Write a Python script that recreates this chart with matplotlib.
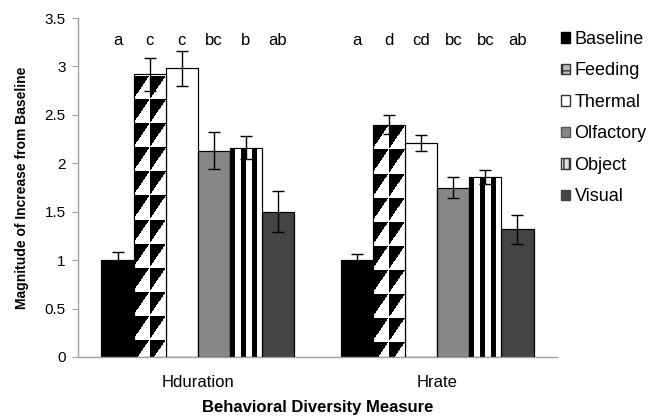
import numpy as np
import matplotlib
matplotlib.use("Agg")
import matplotlib.pyplot as plt
from matplotlib.patches import Patch

plt.rcParams["font.family"] = ["Liberation Sans", "DejaVu Sans"]

# data
measures = ["Hduration", "Hrate"]
conditions = ["Baseline", "Feeding", "Thermal", "Olfactory", "Object", "Visual"]
means = {
    "Hduration": [1.00, 2.92, 2.98, 2.13, 2.16, 1.50],
    "Hrate": [1.00, 2.40, 2.21, 1.75, 1.86, 1.32],
}
errors = {
    "Hduration": [0.08, 0.17, 0.18, 0.19, 0.12, 0.21],
    "Hrate": [0.06, 0.10, 0.08, 0.11, 0.07, 0.15],
}
letters = {
    "Hduration": ["a", "c", "c", "bc", "b", "ab"],
    "Hrate": ["a", "d", "cd", "bc", "bc", "ab"],
}

fills = {
    "Baseline": "#000000",
    "Feeding": "#ffffff",
    "Thermal": "#ffffff",
    "Olfactory": "#878787",
    "Object": "#ffffff",
    "Visual": "#444444",
}

fig = plt.figure(figsize=(6.51, 4.16), dpi=100)
ax = fig.add_axes([78 / 651, 59 / 416, (557 - 78) / 651, (357 - 18) / 416])

n = len(conditions)
width = 0.134
ymax = 3.5
px_per_unit = 339 / ymax


def triangle_texture(h, cell_h):
    # 2 columns of cells, black upper-left triangle, white lower-right
    res = 8
    ny = int(h * px_per_unit * res)
    nx = int(32 * res)
    yy = (np.arange(ny)[::-1] + 0.5) / ny * h
    xx = (np.arange(nx) + 0.5) / nx * 2
    u = np.mod(xx, 1.0)[None, :]
    v = 1 - np.mod((h - yy) / cell_h, 1.0)[:, None]
    img = np.where(v > u, 0.0, 1.0)
    img[(v > 0.94).repeat(nx, axis=1)] = 1.0  # thin white line at top of each cell
    return img


def stripe_texture(h):
    res = 8
    ny = max(int(h * px_per_unit), 2)
    nx = int(32 * res)
    xx = (np.arange(nx) + 0.5) / nx * 3
    u = np.mod(xx, 1.0)
    row = np.where(u < 0.45, 0.0, 1.0)
    return np.tile(row, (ny, 1))


for gi, m in enumerate(measures):
    xs = gi + (np.arange(n) - (n - 1) / 2) * width
    for ci, c in enumerate(conditions):
        val = means[m][ci]
        bar = ax.bar(xs[ci], val, width, color=fills[c], edgecolor="#000000",
                     linewidth=0.8, zorder=2)[0]
        x0 = bar.get_x()
        img = None
        if c == "Feeding":
            img = triangle_texture(val, 24 / px_per_unit)
        elif c == "Object":
            img = stripe_texture(val)
        if img is not None:
            im = ax.imshow(img, extent=(x0, x0 + width, 0, val), aspect="auto",
                           cmap="gray", vmin=0, vmax=1, interpolation="nearest", zorder=2.5)
            im.set_clip_path(bar)
        # outline on top of textures
        ax.bar(xs[ci], val, width, fill=False, edgecolor="#000000", linewidth=0.8, zorder=3)
        ax.errorbar(xs[ci], val, yerr=errors[m][ci], fmt="none", ecolor="#000000",
                    elinewidth=1, capsize=4, capthick=1, zorder=4)
        ax.text(xs[ci], 3.27, letters[m][ci], ha="center", va="center", fontsize=12)

ax.set_xlim(-0.5, 1.5)
ax.set_ylim(0, ymax)
ax.set_yticks(np.arange(0, 3.51, 0.5))
ax.set_yticklabels(["0", "0.5", "1", "1.5", "2", "2.5", "3", "3.5"])
ax.set_xticks([0, 1])
ax.set_xticklabels(measures, fontsize=12)
ax.tick_params(axis="x", length=0, pad=13)
ax.tick_params(axis="y", length=4, color="#a0a0a0", labelsize=11, pad=5)

for s in ["top", "right"]:
    ax.spines[s].set_visible(False)
for s in ["left", "bottom"]:
    ax.spines[s].set_color("#a0a0a0")
    ax.spines[s].set_linewidth(1)

ax.set_ylabel("Magnitude of Increase from Baseline", fontsize=10, fontweight="bold", labelpad=11)
ax.set_xlabel("Behavioral Diversity Measure", fontsize=12, fontweight="bold", labelpad=7)

handles = [
    Patch(facecolor="#000000", edgecolor="#000000"),
    Patch(facecolor="#bbbbbb", edgecolor="#333333", hatch="++"),
    Patch(facecolor="#ffffff", edgecolor="#333333"),
    Patch(facecolor="#878787", edgecolor="#555555"),
    Patch(facecolor="#dddddd", edgecolor="#333333", hatch="|||"),
    Patch(facecolor="#444444", edgecolor="#444444"),
]
fig.legend(handles, conditions, loc="upper left", bbox_to_anchor=(561 / 651, 1 - 31 / 416),
           frameon=False, fontsize=13, handlelength=0.5, handleheight=0.5,
           handletextpad=0.25, labelspacing=0.8, borderaxespad=0, borderpad=0)

fig.savefig("out.png", dpi=100)
